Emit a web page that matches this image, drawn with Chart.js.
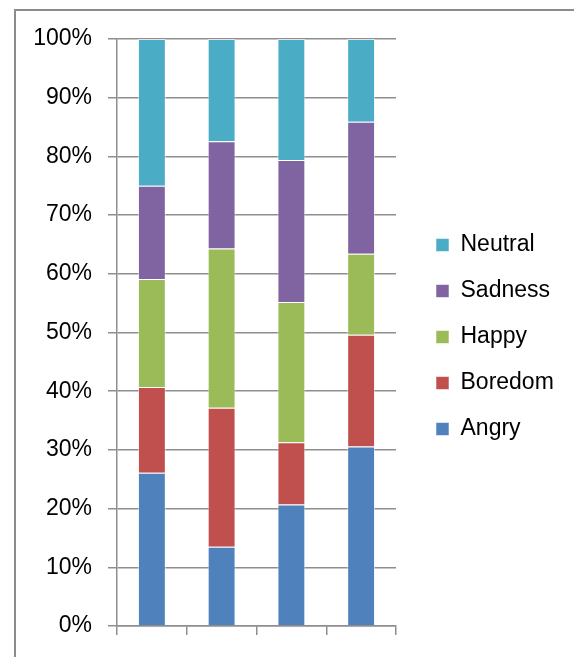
<!DOCTYPE html>
<html>
<head>
<meta charset="utf-8">
<script src="https://cdn.jsdelivr.net/npm/chart.js@4"></script>
<style>
  html, body { margin: 0; padding: 0; background: #fff; overflow: hidden; }
  #frame { position: absolute; left: 14px; top: 9px; width: 700px; height: 800px; border: 2px solid #8c8c8c; }
  #wrap { position: absolute; left: 0; top: 0; width: 574px; height: 657px; }
</style>
</head>
<body>
<div id="frame"></div>
<div id="wrap"><canvas id="chart"></canvas></div>
<script>
// four samples, share of each emotion (percent of the column)
const samples = ['1', '2', '3', '4']
const angry   = [26.1, 13.5, 20.7, 30.6]
const boredom = [14.6, 23.7, 10.6, 19.0]
const happy   = [18.4, 27.1, 23.9, 13.8]
const sadness = [15.9, 18.3, 24.2, 22.5]
const neutral = [25.0, 17.4, 20.6, 14.1]

const gridColor = '#8e8e8e'
const font = { family: '"Liberation Sans", Arial, sans-serif', size: 23 }

const series = [
    { label: 'Angry',   data: angry,   backgroundColor: '#4f81bd' },
    { label: 'Boredom', data: boredom, backgroundColor: '#c0504d' },
    { label: 'Happy',   data: happy,   backgroundColor: '#9bbb59' },
    { label: 'Sadness', data: sadness, backgroundColor: '#8064a2' },
    { label: 'Neutral', data: neutral, backgroundColor: '#4bacc6' }
]

// legend gets a fixed width so the plot ends where it should, then gets nudged into place
const legendBox = {
    id: 'legendBox',
    beforeInit(chart) {
        const fit = chart.legend.fit
        chart.legend.fit = function () {
            fit.call(this)
            this.width = 178
        }
    },
    afterLayout(chart) {
        const lg = chart.legend
        lg.left += 17
        lg.right += 17
        lg.top -= 11
        lg.bottom -= 11
    }
}

new Chart(document.getElementById('chart'), {
    type: 'bar',
    data: {
        labels: samples,
        datasets: series.map(s => ({
            ...s,
            borderColor: 'rgba(255,255,255,0.55)',
            borderWidth: 1,
            barPercentage: 0.4,
            categoryPercentage: 1
        }))
    },
    plugins: [legendBox],
    options: {
        responsive: true,
        maintainAspectRatio: false,
        animation: false,
        layout: { padding: { top: 39, left: 0, right: 0, bottom: 0 } },
        plugins: {
            tooltip: { enabled: false },
            legend: {
                position: 'right',
                reverse: true,
                labels: {
                    color: '#000',
                    font: font,
                    boxWidth: 13,
                    boxHeight: 13,
                    padding: 23
                }
            }
        },
        scales: {
            x: {
                stacked: true,
                offset: true,
                ticks: { display: false },
                grid: {
                    offset: true,
                    drawOnChartArea: false,
                    drawTicks: true,
                    tickLength: 9,
                    color: gridColor,
                    lineWidth: 1.5
                },
                border: { color: gridColor, width: 1.5 },
                afterFit: scale => { scale.height = 31 }
            },
            y: {
                stacked: true,
                min: 0,
                max: 100,
                ticks: {
                    stepSize: 10,
                    color: '#000',
                    font: font,
                    padding: 16,
                    callback: v => v + '%'
                },
                grid: {
                    color: gridColor,
                    lineWidth: 1.5,
                    tickLength: 9
                },
                border: { color: gridColor, width: 1.5 },
                afterFit: scale => { scale.width = 117 }
            }
        }
    }
})
</script>
</body>
</html>
